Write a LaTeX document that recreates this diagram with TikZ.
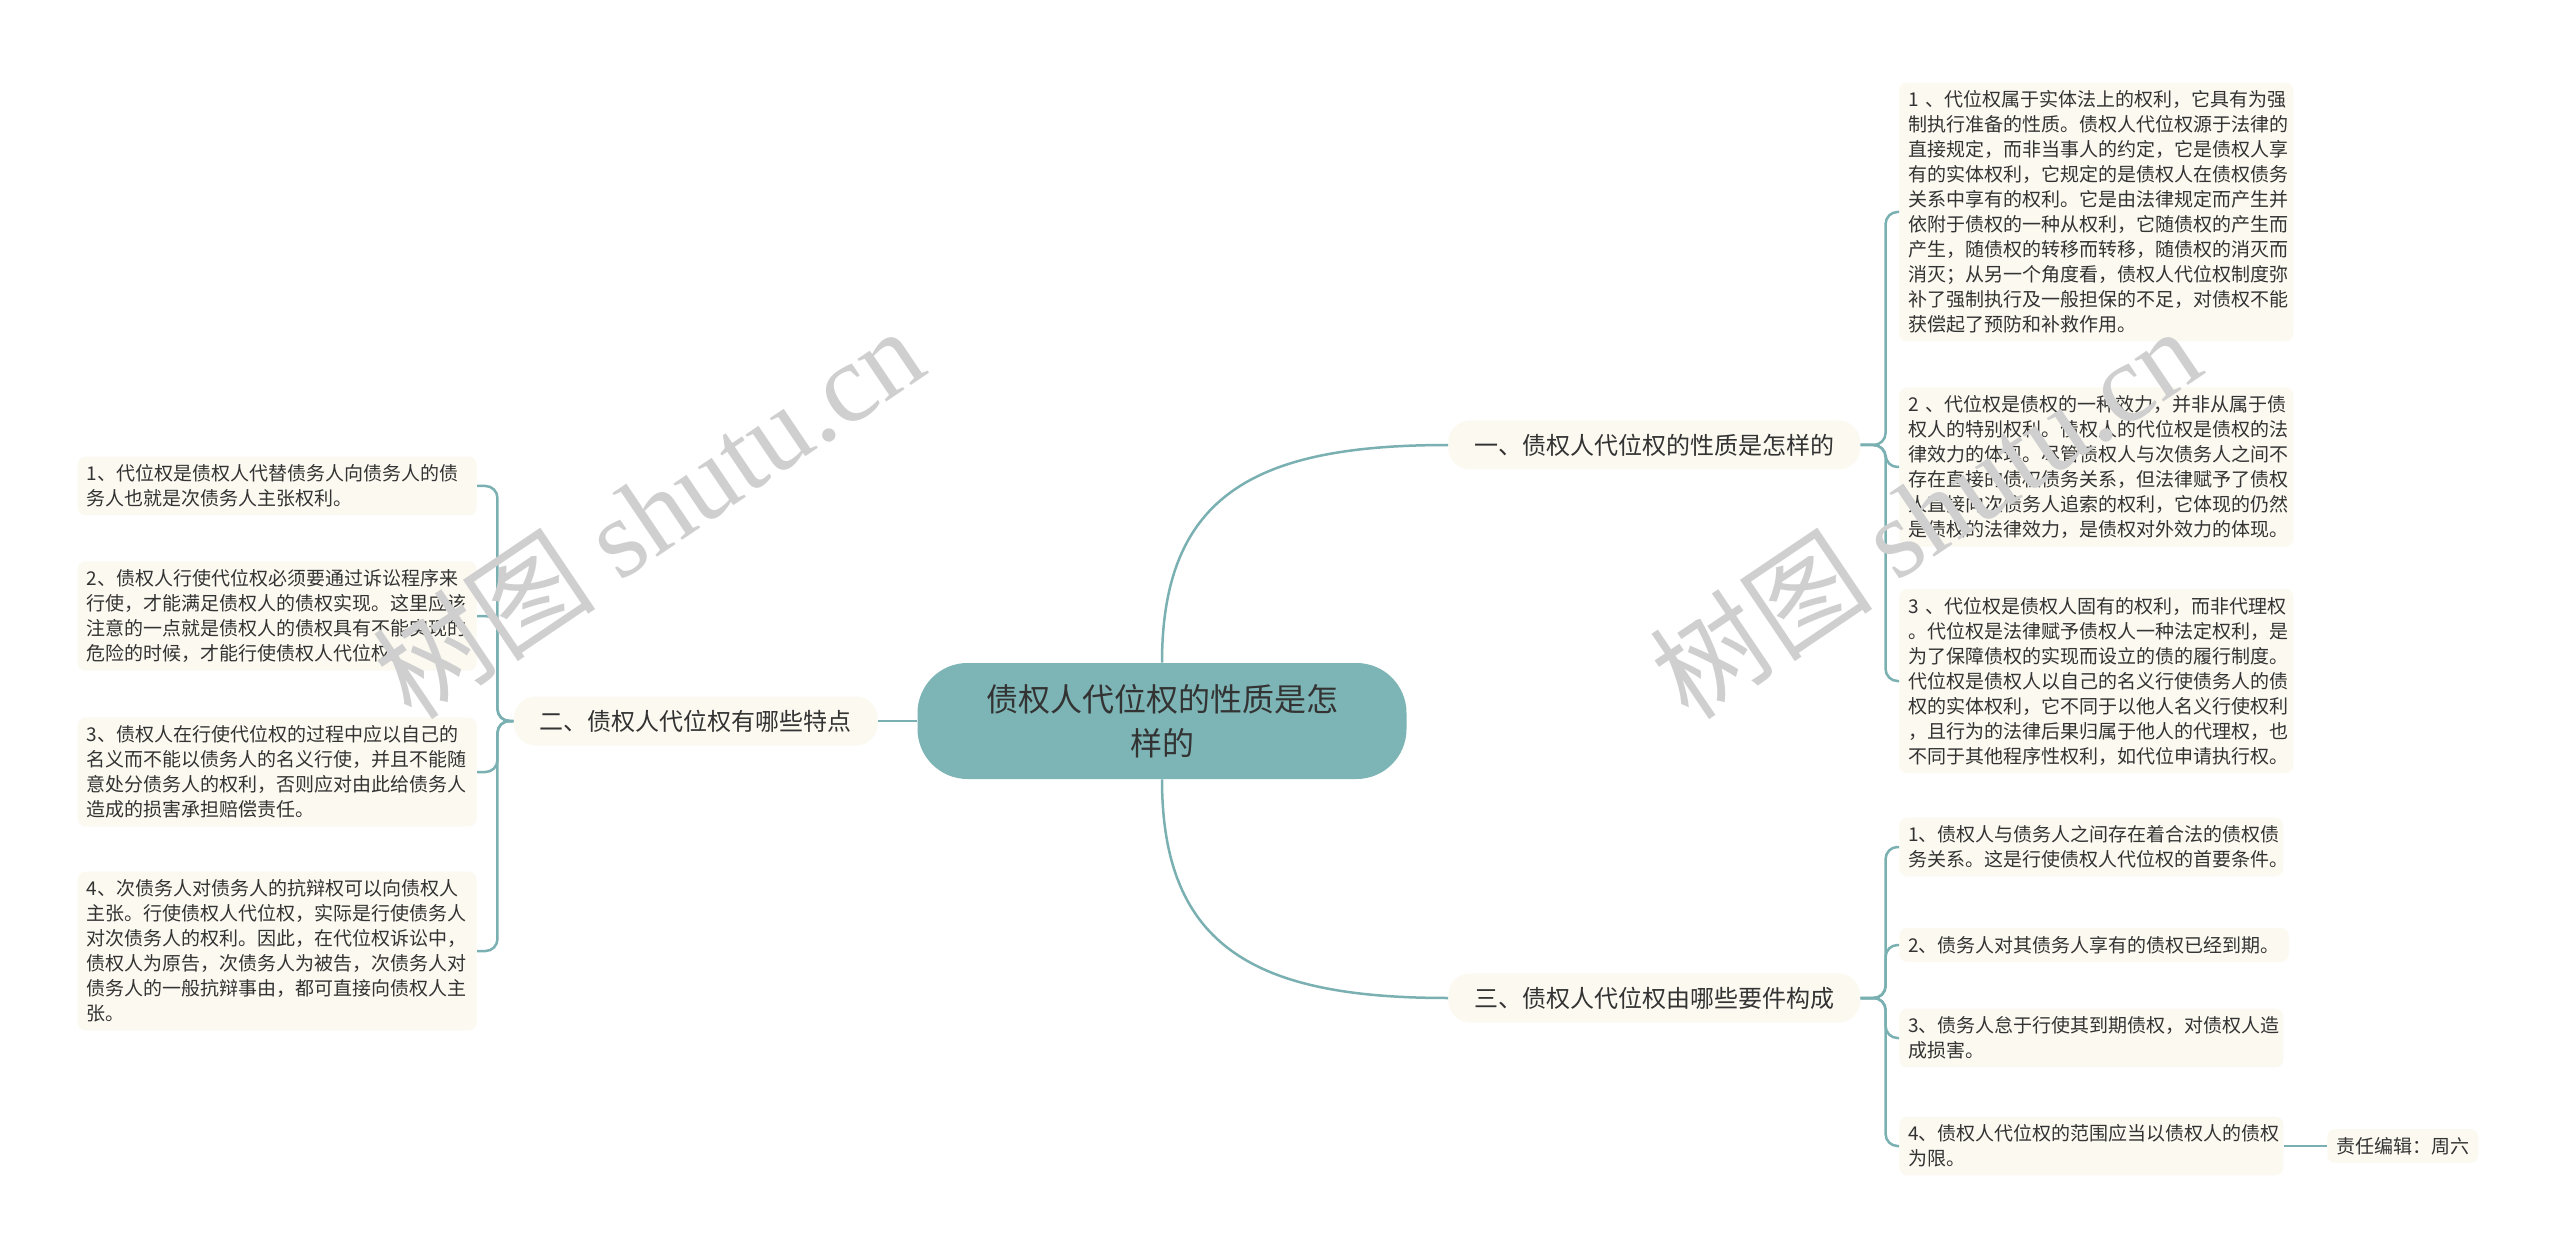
\documentclass[tikz,border=0pt]{standalone}
\usepackage{fontspec}
\setmainfont{Noto Sans CJK SC}
\newfontfamily\markfont{Liberation Serif}
\usetikzlibrary{positioning}

\definecolor{linkteal}{HTML}{7AB0B2}
\definecolor{rootfill}{HTML}{7DB4B5}
\definecolor{leaffill}{HTML}{FCF9F0}
\definecolor{inkgray}{HTML}{333333}

\newlength{\pu}
\setlength{\pu}{0.025cm}

\tikzset{
    root/.style={fill=rootfill, rounded corners=50\pu, minimum width=489\pu, minimum height=116\pu,
        align=center, text=inkgray, font=\fontsize{32\pu}{44\pu}\selectfont},
    branch/.style={fill=leaffill, rounded corners=22\pu, minimum height=49\pu, inner xsep=26\pu,
        text=inkgray, font=\fontsize{24\pu}{30\pu}\selectfont},
    leaf/.style={fill=leaffill, rounded corners=8\pu, inner xsep=9\pu, inner ysep=8\pu,
        align=left, text=inkgray, font=\fontsize{19\pu}{25\pu}\selectfont},
    link/.style={draw=linkteal, line width=2.5\pu},
    fork/.style={link, rounded corners=12\pu},
    watermark/.style={text=black!19, rotate=34, font=\fontsize{112\pu}{120\pu}\selectfont}
}

\begin{document}
\begin{tikzpicture}[x=0.025cm, y=-0.025cm]
    \pgfmathsetmacro{\rightcol}{1899}
    \pgfmathsetmacro{\leftcol}{477}
    \useasboundingbox[fill=white] (0,0) rectangle (2560,1260);

    % root and main branches
    \node[root] (core) at (1162,721) {债权人代位权的性质是怎\\样的};
    \node[branch, anchor=west] (nature) at (1448,445) {一、债权人代位权的性质是怎样的};
    \node[branch, anchor=east] (traits) at (878,721) {二、债权人代位权有哪些特点};
    \node[branch, anchor=west] (terms) at (1448,998) {三、债权人代位权由哪些要件构成};

    % branch one
    \node[leaf, text width=376\pu, anchor=west] (nat1) at (\rightcol,212) {1 、代位权属于实体法上的权利，它具有为强\\制执行准备的性质。债权人代位权源于法律的\\直接规定，而非当事人的约定，它是债权人享\\有的实体权利，它规定的是债权人在债权债务\\关系中享有的权利。它是由法律规定而产生并\\依附于债权的一种从权利，它随债权的产生而\\产生，随债权的转移而转移，随债权的消灭而\\消灭；从另一个角度看，债权人代位权制度弥\\补了强制执行及一般担保的不足，对债权不能\\获偿起了预防和补救作用。};
    \node[leaf, text width=376\pu, anchor=west] (nat2) at (\rightcol,467) {2 、代位权是债权的一种效力，并非从属于债\\权人的特别权利。债权人的代位权是债权的法\\律效力的体现。尽管债权人与次债务人之间不\\存在直接的债权债务关系，但法律赋予了债权\\人直接向次债务人追索的权利，它体现的仍然\\是债权的法律效力，是债权对外效力的体现。};
    \node[leaf, text width=376\pu, anchor=west] (nat3) at (\rightcol,681) {3 、代位权是债权人固有的权利，而非代理权\\。代位权是法律赋予债权人一种法定权利，是\\为了保障债权的实现而设立的债的履行制度。\\代位权是债权人以自己的名义行使债务人的债\\权的实体权利，它不同于以他人名义行使权利\\，且行为的法律后果归属于他人的代理权，也\\不同于其他程序性权利，如代位申请执行权。};

    % branch two
    \node[leaf, text width=381\pu, anchor=east] (tra1) at (\leftcol,486) {1、代位权是债权人代替债务人向债务人的债\\务人也就是次债务人主张权利。};
    \node[leaf, text width=381\pu, anchor=east] (tra2) at (\leftcol,616) {2、债权人行使代位权必须要通过诉讼程序来\\行使，才能满足债权人的债权实现。这里应该\\注意的一点就是债权人的债权具有不能实现的\\危险的时候，才能行使债权人代位权。};
    \node[leaf, text width=381\pu, anchor=east] (tra3) at (\leftcol,772) {3、债权人在行使代位权的过程中应以自己的\\名义而不能以债务人的名义行使，并且不能随\\意处分债务人的权利，否则应对由此给债务人\\造成的损害承担赔偿责任。};
    \node[leaf, text width=381\pu, anchor=east] (tra4) at (\leftcol,951) {4、次债务人对债务人的抗辩权可以向债权人\\主张。行使债权人代位权，实际是行使债务人\\对次债务人的权利。因此，在代位权诉讼中，\\债权人为原告，次债务人为被告，次债务人对\\债务人的一般抗辩事由，都可直接向债权人主\\张。};

    % branch three
    \node[leaf, text width=366\pu, anchor=west] (ter1) at (\rightcol,847) {1、债权人与债务人之间存在着合法的债权债\\务关系。这是行使债权人代位权的首要条件。};
    \node[leaf, anchor=west] (ter2) at (\rightcol,945) {2、债务人对其债务人享有的债权已经到期。};
    \node[leaf, text width=366\pu, anchor=west] (ter3) at (\rightcol,1038) {3、债务人怠于行使其到期债权，对债权人造\\成损害。};
    \node[leaf, text width=366\pu, anchor=west] (ter4) at (\rightcol,1146) {4、债权人代位权的范围应当以债权人的债权\\为限。};
    \node[leaf, anchor=west] (editor) at (2327,1146) {责任编辑：周六};

    % connectors
    \draw[link] (core.north) .. controls +(0,-170) and +(-190,0) .. (nature.west);
    \draw[link] (core.south) .. controls +(0,170) and +(-190,0) .. (terms.west);
    \draw[link] (core.west) -- (traits.east);

    \coordinate[right=25\pu of nature.east] (natureFork);
    \coordinate[right=25\pu of terms.east] (termsFork);
    \coordinate[left=16\pu of traits.west] (traitsFork);
    \foreach \kid in {nat1,nat2,nat3}
        \draw[fork] (nature.east) -- (natureFork) |- (\kid.west);
    \foreach \kid in {ter1,ter2,ter3,ter4}
        \draw[fork] (terms.east) -- (termsFork) |- (\kid.west);
    \foreach \kid in {tra1,tra2,tra3,tra4}
        \draw[fork] (traits.west) -- (traitsFork) |- (\kid.east);
    \draw[link] (ter4.east) -- (editor.west);

    % watermarks
    \node[watermark] (markL) at (648,512) {树图 {\markfont shutu.cn}};
    \node[watermark] (markR) at (1925,512) {树图 {\markfont shutu.cn}};
\end{tikzpicture}
\end{document}
